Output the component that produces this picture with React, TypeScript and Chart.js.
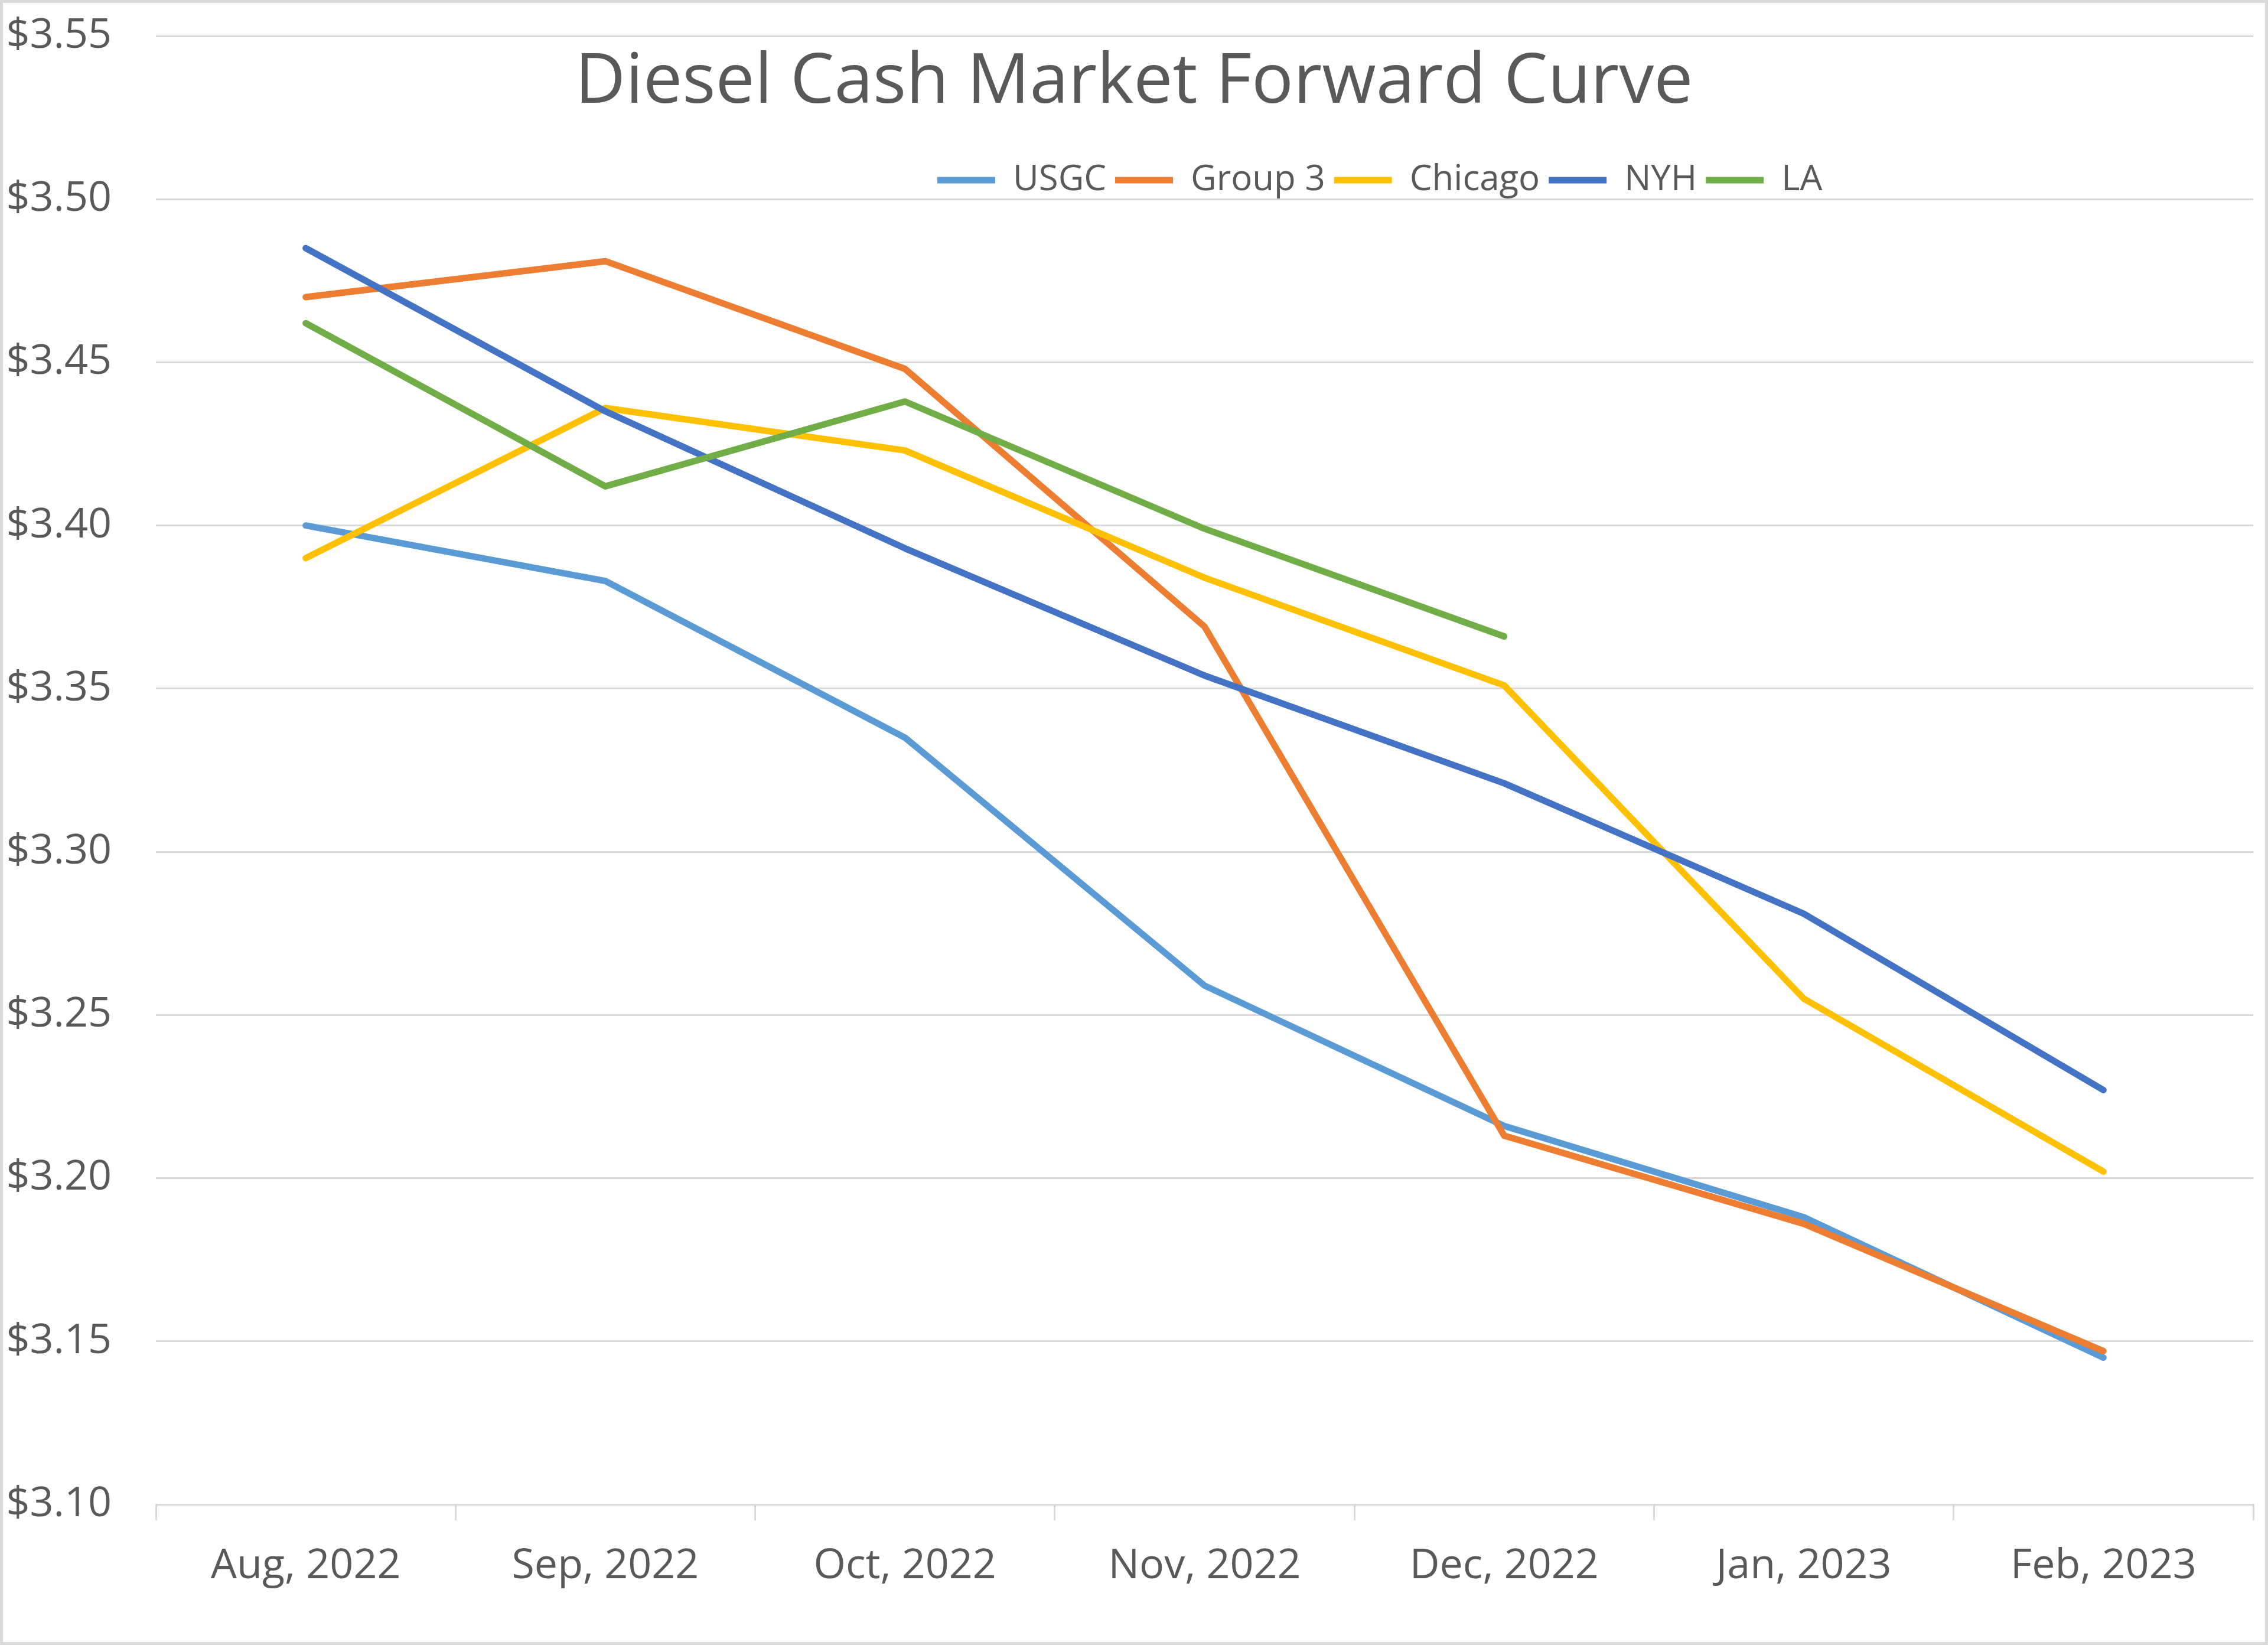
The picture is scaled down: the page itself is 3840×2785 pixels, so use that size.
import React, { useEffect, useRef } from 'react';
import { Chart, registerables } from 'chart.js';

Chart.register(...registerables);

// ---- data ----
const categories = ['Aug, 2022', 'Sep, 2022', 'Oct, 2022', 'Nov, 2022', 'Dec, 2022', 'Jan, 2023', 'Feb, 2023'];
const seriesNames = ['USGC', 'Group 3', 'Chicago', 'NYH', 'LA'];
const usgc = [3.400, 3.383, 3.335, 3.259, 3.216, 3.188, 3.145];
const group3 = [3.470, 3.481, 3.448, 3.369, 3.213, 3.186, 3.147];
const chicago = [3.390, 3.436, 3.423, 3.384, 3.351, 3.255, 3.202];
const nyh = [3.485, 3.435, 3.393, 3.354, 3.321, 3.281, 3.227];
const la = [3.462, 3.412, 3.438, 3.399, 3.366, null, null];
const seriesColors = ['#5B9BD5', '#ED7D31', '#FFC000', '#4472C4', '#70AD47'];
const yMin = 3.10;
const yMax = 3.55;
const yStep = 0.05;
const titleText = 'Diesel Cash Market Forward Curve';

// ---- layout constants ----
const OUTER_W = 3840;
const OUTER_H = 2785;
const BORDER = 5;
const W = OUTER_W - 2 * BORDER;
const H = OUTER_H - 2 * BORDER;
const FONT = "'Open Sans', 'Noto Sans', sans-serif";
const TEXT = '#595959';
const GRID = '#d9d9d9';
const AREA_LEFT = 259;
const AREA_RIGHT = 3810;
const AREA_TOP = 56;
const AREA_BOTTOM = 2542;
const TICK_SIZE = 70;
const TITLE_SIZE = 118;
const TITLE_MID = 135;
const LEGEND_SIZE = 60;
const LEGEND_X = 1582;
const LEGEND_MID = 300;
const LEGEND_PAD = 15;

const overlayPlugin = {
  id: 'overlayBoxes',
  afterLayout(chart: any) {
    const lg = chart.legend;
    if (lg && lg._realH !== undefined) {
      lg.left = LEGEND_X - LEGEND_PAD;
      lg.right = W;
      lg.width = lg.right - lg.left;
      lg.top = LEGEND_MID - LEGEND_PAD - LEGEND_SIZE / 2;
      lg.height = lg._realH;
      lg.bottom = lg.top + lg.height;
    }
    const tb = chart.titleBlock;
    if (tb && tb._realH !== undefined) {
      tb.left = 0;
      tb.right = W;
      tb.width = W;
      tb.top = TITLE_MID - (TITLE_SIZE * 1.2) / 2;
      tb.height = tb._realH;
      tb.bottom = tb.top + tb.height;
    }
  },
};

export default function App() {
  const ref = useRef<HTMLCanvasElement | null>(null);

  useEffect(() => {
    document.body.style.margin = '0';
    const canvas = ref.current;
    if (!canvas) return;
    const data = [usgc, group3, chicago, nyh, la];
    const chart: any = new Chart(canvas, {
      type: 'line',
      data: {
        labels: categories,
        datasets: seriesNames.map((name, i) => ({
          label: name,
          data: data[i],
          borderColor: seriesColors[i],
          backgroundColor: seriesColors[i],
          borderWidth: 11,
          borderCapStyle: 'round',
          borderJoinStyle: 'round',
          pointRadius: 0,
          pointHoverRadius: 0,
          pointStyle: 'line',
          tension: 0,
          spanGaps: false,
          fill: false,
          order: seriesNames.length - i,
        })),
      },
      options: {
        responsive: false,
        animation: false,
        devicePixelRatio: 1,
        layout: { padding: { top: AREA_TOP, right: W - AREA_RIGHT, bottom: 0, left: 0 } },
        plugins: {
          title: {
            display: true,
            text: titleText,
            color: TEXT,
            font: { family: FONT, size: TITLE_SIZE, weight: 'normal', lineHeight: 1.2 },
            padding: 0,
          },
          legend: {
            display: true,
            position: 'top',
            align: 'start',
            labels: {
              usePointStyle: true,
              pointStyle: 'line',
              pointStyleWidth: 98,
              color: TEXT,
              font: { family: FONT, size: LEGEND_SIZE },
              padding: LEGEND_PAD,
              sort: (a: any, b: any) => a.datasetIndex - b.datasetIndex,
            },
          },
          tooltip: { enabled: false },
        },
        scales: {
          x: {
            type: 'category',
            offset: true,
            grid: {
              display: true,
              drawOnChartArea: false,
              drawTicks: true,
              tickLength: 27,
              offset: true,
              color: GRID,
              lineWidth: 3,
            },
            border: { display: true, color: GRID, width: 3 },
            ticks: {
              color: TEXT,
              font: { family: FONT, size: TICK_SIZE },
              padding: 36,
              maxRotation: 0,
              minRotation: 0,
              autoSkip: false,
            },
            afterFit: (s: any) => {
              s.height = H - AREA_BOTTOM;
              s.paddingLeft = 0;
              s.paddingRight = 0;
            },
          },
          y: {
            type: 'linear',
            min: yMin,
            max: yMax,
            ticks: {
              stepSize: yStep,
              padding: 75,
              color: TEXT,
              font: { family: FONT, size: TICK_SIZE },
              callback: (v: any) => '$' + Number(v).toFixed(2),
            },
            grid: { color: GRID, lineWidth: 3, drawTicks: false },
            border: { display: false },
            afterFit: (s: any) => {
              s.width = AREA_LEFT;
              s.paddingTop = 0;
              s.paddingBottom = 0;
            },
          },
        },
      },
      plugins: [overlayPlugin],
    } as any);

    // Let title and legend float over the plot area (as in the original) instead of taking layout space.
    [chart.legend, chart.titleBlock].forEach((b: any) => {
      if (!b) return;
      const orig = b.update.bind(b);
      b.update = function (...args: any[]) {
        orig(...args);
        this._realH = this.height;
        this.height = 0;
        this.bottom = this.top;
      };
    });
    chart.update();

    return () => chart.destroy();
  }, []);

  return (
    <div
      style={{
        position: 'absolute',
        left: 0,
        top: 0,
        width: OUTER_W,
        height: OUTER_H,
        boxSizing: 'border-box',
        border: `${BORDER}px solid #d9d9d9`,
        background: '#ffffff',
        overflow: 'hidden',
      }}
    >
      <canvas ref={ref} width={W} height={H} style={{ display: 'block', width: W, height: H }} />
    </div>
  );
}
